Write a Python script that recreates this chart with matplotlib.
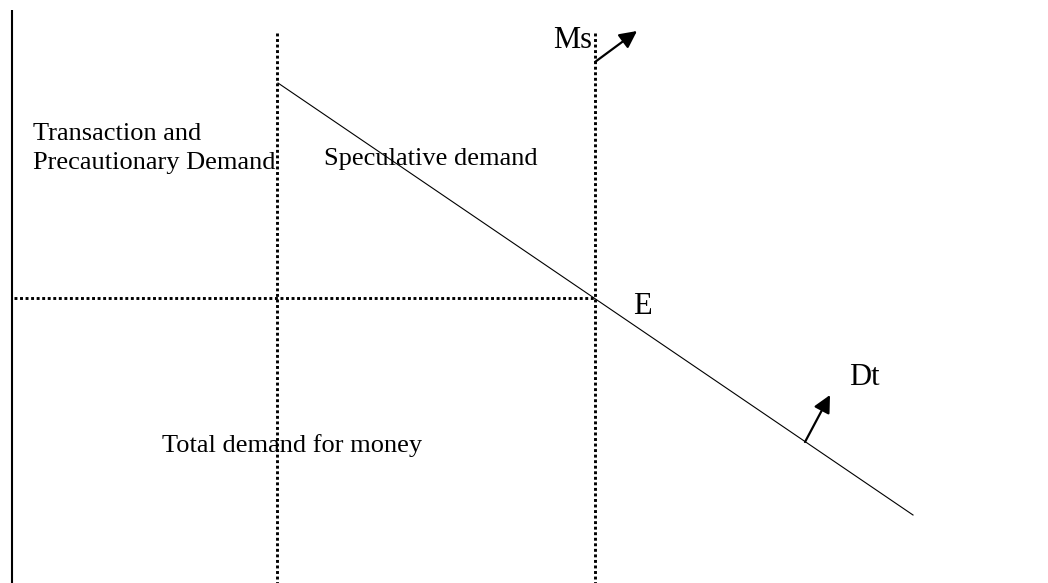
import matplotlib
matplotlib.use('Agg')
import matplotlib.pyplot as plt

# diagram coordinates (pixel-like units, y grows downward)
axis_x = [12, 12]
axis_y = [10, 583]

tp_x = [277, 277]          # transaction/precautionary boundary
tp_y = [33, 583]

ms_x = [595, 595]          # money supply
ms_y = [33, 583]

rate_x = [14, 595]         # equilibrium interest rate
rate_y = [298, 298]

demand_x = [278, 913]      # total demand curve Dt
demand_y = [83, 515]

ms_arrow = [(595, 62), (637, 31)]
dt_arrow = [(805, 442), (830, 395)]

labels_small = [
    ('Transaction and', 33, 140),
    ('Precautionary Demand', 33, 169),
    ('Speculative demand', 324, 165),
    ('Total demand for money', 162, 452),
]
labels_big = [
    ('Ms', 553, 48),
    ('E', 633, 314),
    ('Dt', 849, 385),
]

plt.rcParams['font.family'] = ['Liberation Serif', 'DejaVu Serif']

fig = plt.figure(figsize=(10.48, 5.83), dpi=100)
ax = fig.add_axes([0, 0, 1, 1])
ax.set_xlim(0, 1048)
ax.set_ylim(583, 0)
ax.axis('off')

ax.plot(axis_x, axis_y, color='black', lw=1.5, solid_capstyle='butt')

dots = (0, (1.0, 0.9))
for xs, ys in [(tp_x, tp_y), (ms_x, ms_y), (rate_x, rate_y)]:
    ax.plot(xs, ys, color='black', lw=2.1, linestyle=dots)

ax.plot(demand_x, demand_y, color='black', lw=0.8)

for (x0, y0), (x1, y1) in [ms_arrow, dt_arrow]:
    ax.annotate('', xy=(x1, y1), xytext=(x0, y0),
                arrowprops=dict(arrowstyle='-|>', color='black', lw=1.6,
                                mutation_scale=26, shrinkA=0, shrinkB=0))

for txt, x, y in labels_small:
    ax.text(x, y, txt, fontsize=19, ha='left', va='baseline')
for txt, x, y in labels_big:
    ax.text(x, y, txt, fontsize=22, ha='left', va='baseline')

fig.savefig('out.png', dpi=100)
